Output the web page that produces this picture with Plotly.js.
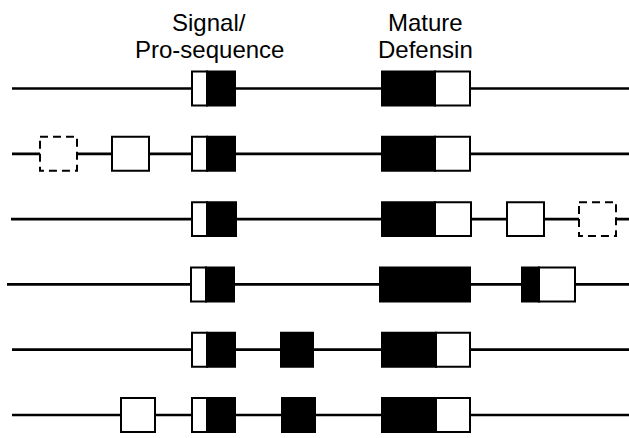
<!DOCTYPE html>
<html>
<head>
<meta charset="utf-8">
<script src="https://cdn.plot.ly/plotly-3.0.1.min.js"></script>
<style>
  html, body { margin: 0; padding: 0; background: #ffffff; }
  #chart { width: 629px; height: 438px; }
</style>
</head>
<body>
<div id="chart"></div>
<script>
// ---- data ----
// Gene rows (top to bottom)
const rows = [1, 2, 3, 4, 5, 6];
// intron line extent per row [start, end] (position units)
const intronStart = [12, 12, 11, 7, 12, 12];
const intronEnd   = [629, 629, 629, 629, 629, 629];
// exon segments per row: [start, end, kind]  kind: "open" | "coding" | "putative"
const row1Exons = [[192, 207, "open"], [207, 235, "coding"], [382, 435, "coding"], [435, 470, "open"]];
const row2Exons = [[40, 77, "putative"], [112, 149, "open"], [192, 207, "open"], [207, 235, "coding"], [382, 435, "coding"], [435, 470, "open"]];
const row3Exons = [[192, 207, "open"], [207, 236, "coding"], [382, 435, "coding"], [435, 471, "open"], [507, 544, "open"], [579, 616, "putative"]];
const row4Exons = [[191, 206, "open"], [206, 234, "coding"], [380, 470, "coding"], [522, 539, "coding"], [539, 575, "open"]];
const row5Exons = [[192, 207, "open"], [207, 235, "coding"], [281, 313, "coding"], [382, 436, "coding"], [436, 470, "open"]];
const row6Exons = [[121, 155, "open"], [192, 207, "open"], [207, 235, "coding"], [282, 315, "coding"], [382, 436, "coding"], [436, 470, "open"]];
const exonsByRow = [row1Exons, row2Exons, row3Exons, row4Exons, row5Exons, row6Exons];
// header labels
const labelLine1 = ["Signal/", "Mature"];
const labelLine2 = ["Pro-sequence", "Defensin"];
const labelX = [209, 425];

// ---- styles ----
const HALF = 0.26;          // exon half-height in row units
const INTRON_W = 2.7;
const BOX_W = 2;
const FONT = "Liberation Sans, Arial, Helvetica, sans-serif";
const LABEL_SIZE = 24;

// ---- traces: intron lines ----
const traces = rows.map((r, i) => ({
  type: "scatter",
  mode: "lines",
  x: [intronStart[i], intronEnd[i]],
  y: [r, r],
  line: { color: "#000000", width: INTRON_W },
  hoverinfo: "skip",
  showlegend: false
}));

// ---- shapes: exons ----
const shapes = [];
rows.forEach((r, i) => {
  exonsByRow[i].forEach(seg => {
    const kind = seg[2];
    shapes.push({
      type: "rect",
      xref: "x", yref: "y",
      x0: seg[0], x1: seg[1],
      y0: r - HALF, y1: r + HALF,
      fillcolor: kind === "coding" ? "#000000" : "#ffffff",
      line: {
        color: "#000000",
        width: BOX_W,
        dash: kind === "putative" ? "8px,5px" : "solid"
      },
      layer: "above"
    });
  });
});

// ---- annotations: header labels ----
const annotations = [];
labelX.forEach((x, i) => {
  annotations.push({
    xref: "x", yref: "paper", x: x, y: 1 - 22.0 / 438,
    text: labelLine1[i], showarrow: false,
    xanchor: "center", yanchor: "middle",
    font: { family: FONT, size: LABEL_SIZE, color: "#000000" }
  });
  annotations.push({
    xref: "x", yref: "paper", x: x, y: 1 - 50.0 / 438,
    text: labelLine2[i], showarrow: false,
    xanchor: "center", yanchor: "middle",
    font: { family: FONT, size: LABEL_SIZE, color: "#000000" }
  });
});

const layout = {
  width: 629, height: 438,
  margin: { l: 0, r: 0, t: 0, b: 0, pad: 0 },
  paper_bgcolor: "#ffffff",
  plot_bgcolor: "#ffffff",
  showlegend: false,
  xaxis: { range: [0, 629], visible: false, showgrid: false, zeroline: false, fixedrange: true },
  yaxis: { range: [6.352, -0.3553], visible: false, showgrid: false, zeroline: false, fixedrange: true },
  shapes: shapes,
  annotations: annotations
};

Plotly.newPlot("chart", traces, layout, { displayModeBar: false, staticPlot: true });
</script>
</body>
</html>
